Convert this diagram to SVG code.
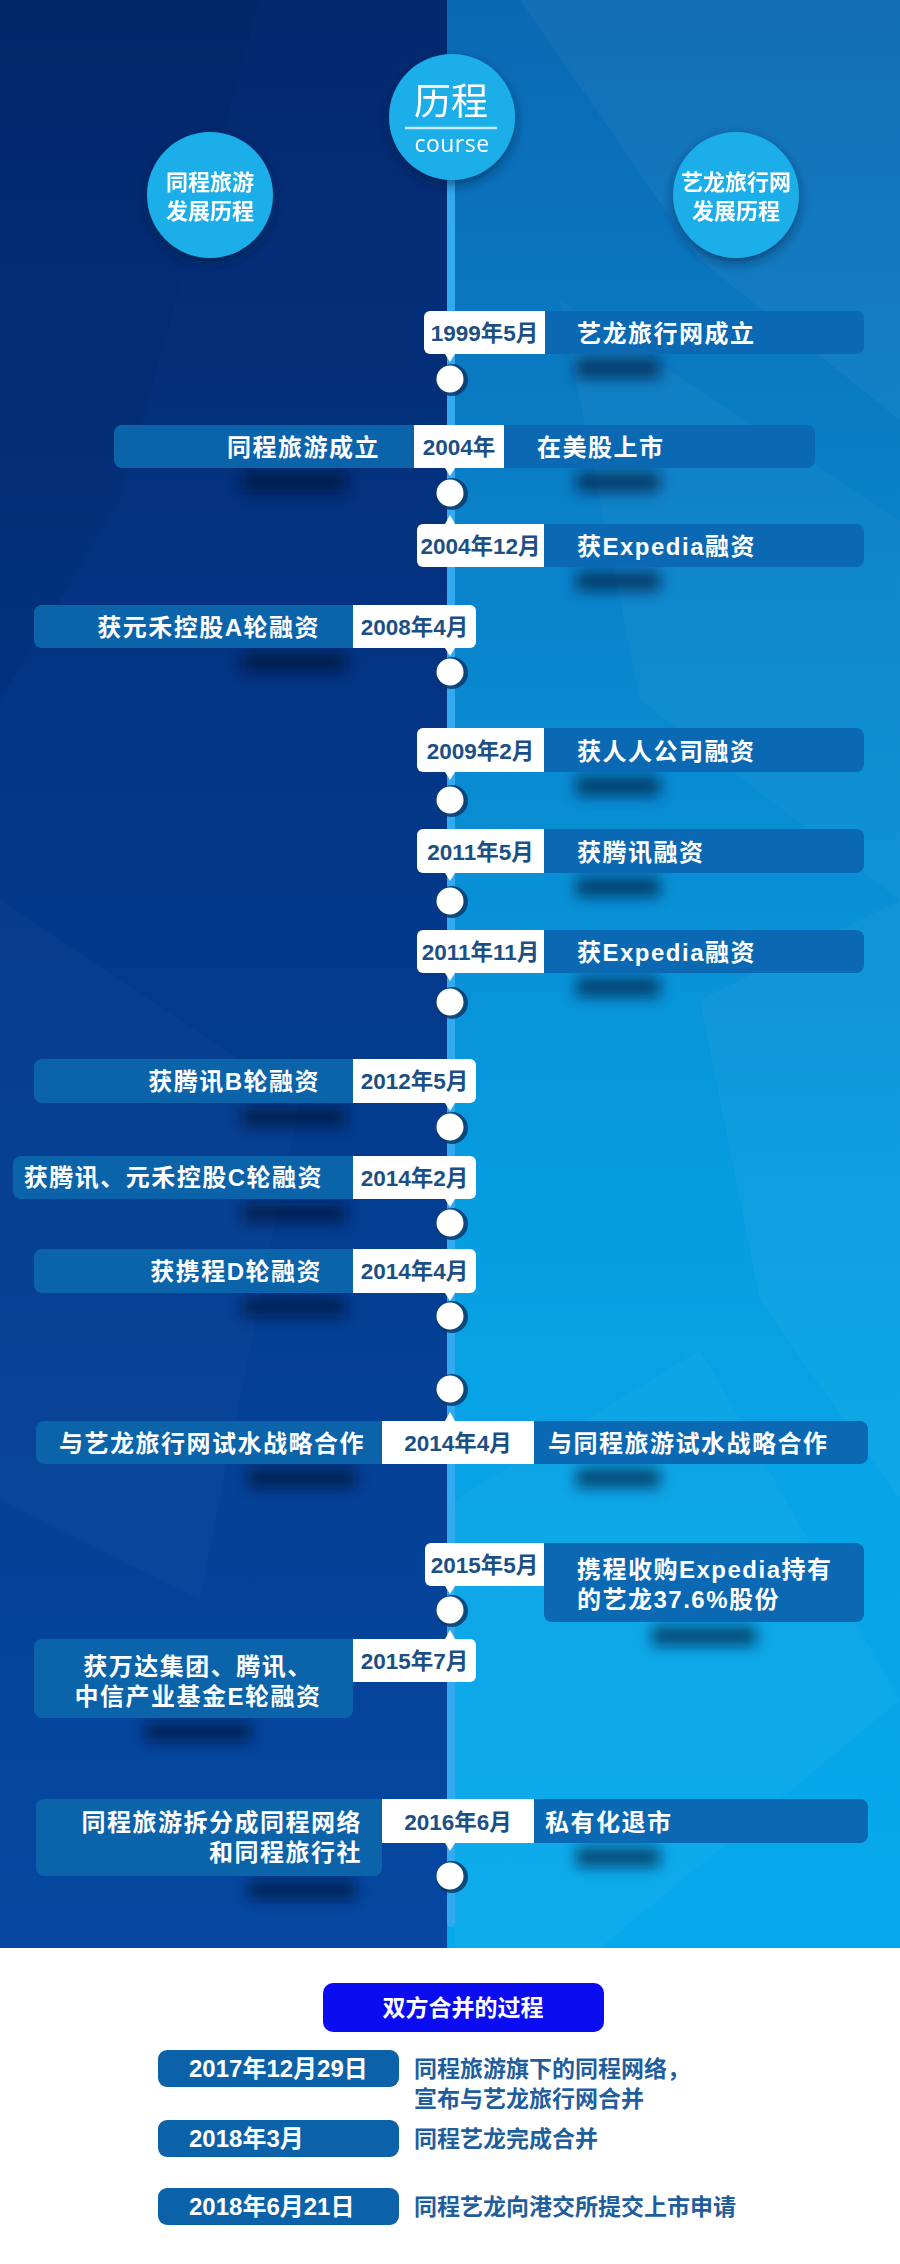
<svg xmlns="http://www.w3.org/2000/svg" width="900" height="2264" viewBox="0 0 900 2264">
<defs>
  <linearGradient id="gL" x1="0" y1="0" x2="0" y2="1948" gradientUnits="userSpaceOnUse">
    <stop offset="0" stop-color="#03296f"/>
    <stop offset="0.5" stop-color="#033a8c"/>
    <stop offset="1" stop-color="#0548a1"/>
  </linearGradient>
  <linearGradient id="gR" x1="0" y1="0" x2="0" y2="1948" gradientUnits="userSpaceOnUse">
    <stop offset="0" stop-color="#0a69b3"/>
    <stop offset="0.35" stop-color="#0988cf"/>
    <stop offset="0.7" stop-color="#07a2e5"/>
    <stop offset="1" stop-color="#06aaec"/>
  </linearGradient>
  <filter id="blur" x="-50%" y="-150%" width="200%" height="400%">
    <feGaussianBlur stdDeviation="7"/>
  </filter>
  <filter id="ds" x="-30%" y="-30%" width="160%" height="170%">
    <feDropShadow dx="0" dy="5" stdDeviation="6" flood-color="#001a44" flood-opacity="0.55"/>
  </filter>
  <style>
    .barL{fill:#0b63aa}
    .barR{fill:#0a69b2}
    .date{fill:#ffffff}
    .sh{fill:#00112e;opacity:.6}
    .dotsh{fill:#0b3a6b;opacity:.85}
    .dot{fill:#ffffff}
    .dt{font-family:"Liberation Sans","Noto Sans CJK SC",sans-serif;font-weight:700;font-size:22.5px;fill:#1c4f83;text-anchor:middle}
    .ev{font-family:"Liberation Sans","Noto Sans CJK SC",sans-serif;font-weight:700;font-size:24px;fill:#ffffff;letter-spacing:1.5px}
    .evE{text-anchor:end}
    .evM{text-anchor:middle}
    .hc{fill:#1aaee9}
    .ht{font-family:"Noto Sans CJK SC",sans-serif;font-weight:700;font-size:22px;fill:#ffffff;text-anchor:middle}
    .bbox{fill:#0b62a8}
    .bdt{font-family:"Liberation Sans","Noto Sans CJK SC",sans-serif;font-weight:700;font-size:24px;fill:#ffffff}
    .btx{font-family:"Liberation Sans","Noto Sans CJK SC",sans-serif;font-weight:700;font-size:23px;fill:#1f5e9c}
  </style>
</defs>

<g id="background">
  <rect x="0" y="0" width="447" height="1948" fill="url(#gL)"/>
  <rect x="447" y="0" width="453" height="1948" fill="url(#gR)"/>
  <polygon points="520,0 900,0 900,420 700,260" fill="#ffffff" opacity="0.04"/>
  <polygon points="560,300 900,520 900,900 640,700" fill="#ffffff" opacity="0.03"/>
  <polygon points="700,1000 900,900 900,1500 760,1300" fill="#ffffff" opacity="0.035"/>
  <polygon points="455,1500 700,1350 900,1700 600,1948 455,1948" fill="#ffffff" opacity="0.03"/>
  <polygon points="0,0 260,0 120,500 0,700" fill="#000a30" opacity="0.06"/>
  <polygon points="0,900 300,1100 200,1600 0,1500" fill="#ffffff" opacity="0.02"/>
  <rect x="0" y="1948" width="900" height="316" fill="#ffffff"/>
</g>

<g id="connectors">
  <line x1="451" y1="180" x2="451" y2="1923" stroke="#33aaf0" stroke-width="8" stroke-linecap="round"/>
</g>

<g id="header-course" filter="url(#ds)">
  <circle class="hc" cx="452" cy="117" r="63"/>
  <text x="451" y="115" font-family="'Noto Sans CJK SC',sans-serif" font-size="37" fill="#ffffff" text-anchor="middle">历程</text>
  <line x1="405" y1="128" x2="497" y2="128" stroke="#c4ecff" stroke-width="2.5"/>
  <text x="452" y="152" font-family="'Open Sans',sans-serif" font-size="23" fill="#ffffff" text-anchor="middle" letter-spacing="0.5">course</text>
</g>
<g id="header-tongcheng" filter="url(#ds)">
  <circle class="hc" cx="210" cy="195" r="63"/>
  <text class="ht" x="210" y="190">同程旅游</text>
  <text class="ht" x="210" y="219">发展历程</text>
</g>
<g id="header-elong" filter="url(#ds)">
  <circle class="hc" cx="736" cy="195" r="63"/>
  <text class="ht" x="736" y="190">艺龙旅行网</text>
  <text class="ht" x="736" y="219">发展历程</text>
</g>

<g id="e1999">
  <rect class="sh" x="576" y="358" width="84" height="20" filter="url(#blur)"/>
  <path class="barR" d="M545,311H856a8,8 0 0 1 8,8V346a8,8 0 0 1 -8,8H545Z"/>
  <path class="date" d="M545,311V354H430a6,6 0 0 1 -6,-6V317a6,6 0 0 1 6,-6Z"/>
  <path class="date" d="M445,354L450,362L455,354Z"/>
  <text class="dt" x="484.5" y="341">1999年5月</text>
  <text class="ev" x="577" y="342">艺龙旅行网成立</text>
</g>

<g id="e2004">
  <rect class="sh" x="242" y="472" width="104" height="20" filter="url(#blur)"/>
  <rect class="sh" x="576" y="472" width="84" height="20" filter="url(#blur)"/>
  <path class="barL" d="M414,425V468H122a8,8 0 0 1 -8,-8V433a8,8 0 0 1 8,-8Z"/>
  <rect class="date" x="414" y="425" width="90" height="43"/>
  <path class="barR" d="M504,425H807a8,8 0 0 1 8,8V460a8,8 0 0 1 -8,8H504Z"/>
  <path class="date" d="M445,468L450,476L455,468Z"/>
  <text class="ev evE" x="380" y="456">同程旅游成立</text>
  <text class="dt" x="459" y="455">2004年</text>
  <text class="ev" x="537" y="456">在美股上市</text>
</g>

<g id="e2004-12">
  <rect class="sh" x="576" y="571" width="84" height="20" filter="url(#blur)"/>
  <path class="barR" d="M544,524H856a8,8 0 0 1 8,8V559a8,8 0 0 1 -8,8H544Z"/>
  <path class="date" d="M544,524V567H423a6,6 0 0 1 -6,-6V530a6,6 0 0 1 6,-6Z"/>
  <path class="date" d="M445,524L450,515L455,524Z"/>
  <text class="dt" x="480.5" y="554">2004年12月</text>
  <text class="ev" x="577" y="555">获Expedia融资</text>
</g>

<g id="e2008-4">
  <rect class="sh" x="242" y="652" width="104" height="20" filter="url(#blur)"/>
  <path class="barL" d="M353,605V648H42a8,8 0 0 1 -8,-8V613a8,8 0 0 1 8,-8Z"/>
  <path class="date" d="M353,605H470a6,6 0 0 1 6,6V642a6,6 0 0 1 -6,6H353Z"/>
  <path class="date" d="M445,648L450,656L455,648Z"/>
  <text class="ev evE" x="320" y="636">获元禾控股A轮融资</text>
  <text class="dt" x="414.5" y="635">2008年4月</text>
</g>

<g id="e2009-2">
  <rect class="sh" x="576" y="776" width="84" height="20" filter="url(#blur)"/>
  <path class="barR" d="M544,728H856a8,8 0 0 1 8,8V764a8,8 0 0 1 -8,8H544Z"/>
  <path class="date" d="M544,728V772H423a6,6 0 0 1 -6,-6V734a6,6 0 0 1 6,-6Z"/>
  <path class="date" d="M445,772L450,780L455,772Z"/>
  <text class="dt" x="480.5" y="759">2009年2月</text>
  <text class="ev" x="577" y="760">获人人公司融资</text>
</g>

<g id="e2011-5">
  <rect class="sh" x="576" y="877" width="84" height="20" filter="url(#blur)"/>
  <path class="barR" d="M544,829H856a8,8 0 0 1 8,8V865a8,8 0 0 1 -8,8H544Z"/>
  <path class="date" d="M544,829V873H423a6,6 0 0 1 -6,-6V835a6,6 0 0 1 6,-6Z"/>
  <path class="date" d="M445,873L450,881L455,873Z"/>
  <text class="dt" x="480.5" y="860">2011年5月</text>
  <text class="ev" x="577" y="861">获腾讯融资</text>
</g>

<g id="e2011-11">
  <rect class="sh" x="576" y="977" width="84" height="20" filter="url(#blur)"/>
  <path class="barR" d="M544,930H856a8,8 0 0 1 8,8V965a8,8 0 0 1 -8,8H544Z"/>
  <path class="date" d="M544,930V973H423a6,6 0 0 1 -6,-6V936a6,6 0 0 1 6,-6Z"/>
  <path class="date" d="M445,973L450,981L455,973Z"/>
  <text class="dt" x="480.5" y="960">2011年11月</text>
  <text class="ev" x="577" y="961">获Expedia融资</text>
</g>

<g id="e2012-5">
  <rect class="sh" x="242" y="1107" width="104" height="20" filter="url(#blur)"/>
  <path class="barL" d="M353,1059V1103H42a8,8 0 0 1 -8,-8V1067a8,8 0 0 1 8,-8Z"/>
  <path class="date" d="M353,1059H470a6,6 0 0 1 6,6V1097a6,6 0 0 1 -6,6H353Z"/>
  <path class="date" d="M445,1103L450,1111L455,1103Z"/>
  <text class="ev evE" x="320" y="1090">获腾讯B轮融资</text>
  <text class="dt" x="414.5" y="1089">2012年5月</text>
</g>

<g id="e2014-2">
  <rect class="sh" x="242" y="1203" width="104" height="20" filter="url(#blur)"/>
  <path class="barL" d="M353,1156V1199H21a8,8 0 0 1 -8,-8V1164a8,8 0 0 1 8,-8Z"/>
  <path class="date" d="M353,1156H470a6,6 0 0 1 6,6V1193a6,6 0 0 1 -6,6H353Z"/>
  <path class="date" d="M445,1199L450,1207L455,1199Z"/>
  <text class="ev evE" x="323" y="1186">获腾讯、元禾控股C轮融资</text>
  <text class="dt" x="414.5" y="1186">2014年2月</text>
</g>

<g id="e2014-4">
  <rect class="sh" x="242" y="1297" width="104" height="20" filter="url(#blur)"/>
  <path class="barL" d="M353,1249V1293H42a8,8 0 0 1 -8,-8V1257a8,8 0 0 1 8,-8Z"/>
  <path class="date" d="M353,1249H470a6,6 0 0 1 6,6V1287a6,6 0 0 1 -6,6H353Z"/>
  <path class="date" d="M445,1293L450,1301L455,1293Z"/>
  <text class="ev evE" x="322" y="1280">获携程D轮融资</text>
  <text class="dt" x="414.5" y="1279">2014年4月</text>
</g>

<g id="e2014-4-both">
  <rect class="sh" x="248" y="1468" width="108" height="20" filter="url(#blur)"/>
  <rect class="sh" x="576" y="1468" width="84" height="20" filter="url(#blur)"/>
  <path class="barL" d="M382,1421V1464H44a8,8 0 0 1 -8,-8V1429a8,8 0 0 1 8,-8Z"/>
  <rect class="date" x="382" y="1421" width="152" height="43"/>
  <path class="barR" d="M534,1421H860a8,8 0 0 1 8,8V1456a8,8 0 0 1 -8,8H534Z"/>
  <path class="date" d="M445,1421L450,1412L455,1421Z"/>
  <text class="ev evE" x="365" y="1452">与艺龙旅行网试水战略合作</text>
  <text class="dt" x="458" y="1451">2014年4月</text>
  <text class="ev" x="548" y="1452">与同程旅游试水战略合作</text>
</g>

<g id="e2015-5">
  <rect class="sh" x="652" y="1626" width="104" height="20" filter="url(#blur)"/>
  <path class="barR" d="M544,1543H856a8,8 0 0 1 8,8V1614a8,8 0 0 1 -8,8H552a8,8 0 0 1 -8,-8Z"/>
  <path class="date" d="M544,1543V1586H431a6,6 0 0 1 -6,-6V1549a6,6 0 0 1 6,-6Z"/>
  <path class="date" d="M445,1586L450,1594L455,1586Z"/>
  <text class="dt" x="484.5" y="1573">2015年5月</text>
  <text class="ev" x="577" y="1578">携程收购Expedia持有</text>
  <text class="ev" x="577" y="1608">的艺龙37.6%股份</text>
</g>

<g id="e2015-7">
  <rect class="sh" x="145" y="1722" width="106" height="20" filter="url(#blur)"/>
  <path class="barL" d="M353,1639V1710a8,8 0 0 1 -8,8H42a8,8 0 0 1 -8,-8V1647a8,8 0 0 1 8,-8Z"/>
  <path class="date" d="M353,1639H470a6,6 0 0 1 6,6V1676a6,6 0 0 1 -6,6H353Z"/>
  <path class="date" d="M445,1639L450,1630L455,1639Z"/>
  <text class="dt" x="414.5" y="1669">2015年7月</text>
  <text class="ev evM" x="198" y="1675">获万达集团、腾讯、</text>
  <text class="ev evM" x="198" y="1705">中信产业基金E轮融资</text>
</g>

<g id="e2016-6">
  <rect class="sh" x="248" y="1880" width="108" height="20" filter="url(#blur)"/>
  <rect class="sh" x="576" y="1847" width="84" height="20" filter="url(#blur)"/>
  <path class="barL" d="M382,1799V1868a8,8 0 0 1 -8,8H44a8,8 0 0 1 -8,-8V1807a8,8 0 0 1 8,-8Z"/>
  <rect class="date" x="382" y="1799" width="152" height="44"/>
  <path class="barR" d="M534,1799H860a8,8 0 0 1 8,8V1835a8,8 0 0 1 -8,8H534Z"/>
  <path class="date" d="M445,1843L450,1851L455,1843Z"/>
  <text class="ev evE" x="362" y="1831">同程旅游拆分成同程网络</text>
  <text class="ev evE" x="362" y="1861">和同程旅行社</text>
  <text class="dt" x="458" y="1830">2016年6月</text>
  <text class="ev" x="545" y="1831">私有化退市</text>
</g>

<g id="dots">
  <g id="dot1"><circle class="dotsh" cx="452" cy="380" r="16"/><circle class="dot" cx="450" cy="379" r="13.5"/></g>
  <g id="dot2"><circle class="dotsh" cx="452" cy="494" r="16"/><circle class="dot" cx="450" cy="493" r="13.5"/></g>
  <g id="dot3"><circle class="dotsh" cx="452" cy="673" r="16"/><circle class="dot" cx="450" cy="672" r="13.5"/></g>
  <g id="dot4"><circle class="dotsh" cx="452" cy="801" r="16"/><circle class="dot" cx="450" cy="800" r="13.5"/></g>
  <g id="dot5"><circle class="dotsh" cx="452" cy="902" r="16"/><circle class="dot" cx="450" cy="901" r="13.5"/></g>
  <g id="dot6"><circle class="dotsh" cx="452" cy="1003" r="16"/><circle class="dot" cx="450" cy="1002" r="13.5"/></g>
  <g id="dot7"><circle class="dotsh" cx="452" cy="1128" r="16"/><circle class="dot" cx="450" cy="1127" r="13.5"/></g>
  <g id="dot8"><circle class="dotsh" cx="452" cy="1224" r="16"/><circle class="dot" cx="450" cy="1223" r="13.5"/></g>
  <g id="dot9"><circle class="dotsh" cx="452" cy="1317" r="16"/><circle class="dot" cx="450" cy="1316" r="13.5"/></g>
  <g id="dot10"><circle class="dotsh" cx="452" cy="1390" r="16"/><circle class="dot" cx="450" cy="1389" r="13.5"/></g>
  <g id="dot11"><circle class="dotsh" cx="452" cy="1611" r="16"/><circle class="dot" cx="450" cy="1610" r="13.5"/></g>
  <g id="dot12"><circle class="dotsh" cx="452" cy="1877" r="16"/><circle class="dot" cx="450" cy="1876" r="13.5"/></g>
</g>

<g id="merge-title">
  <rect x="323" y="1983" width="281" height="49" rx="10" fill="#0b0cef"/>
  <text x="463" y="2016" font-family="'Noto Sans CJK SC',sans-serif" font-weight="700" font-size="23" fill="#ffffff" text-anchor="middle">双方合并的过程</text>
</g>
<g id="m2017">
  <rect class="bbox" x="158" y="2050" width="241" height="37" rx="9"/>
  <text class="bdt" x="189" y="2077">2017年12月29日</text>
  <text class="btx" x="414" y="2077">同程旅游旗下的同程网络，</text>
  <text class="btx" x="414" y="2107">宣布与艺龙旅行网合并</text>
</g>
<g id="m2018-3">
  <rect class="bbox" x="158" y="2120" width="241" height="37" rx="9"/>
  <text class="bdt" x="189" y="2147">2018年3月</text>
  <text class="btx" x="414" y="2147">同程艺龙完成合并</text>
</g>
<g id="m2018-6">
  <rect class="bbox" x="158" y="2188" width="241" height="37" rx="9"/>
  <text class="bdt" x="189" y="2215">2018年6月21日</text>
  <text class="btx" x="414" y="2215">同程艺龙向港交所提交上市申请</text>
</g>
</svg>
